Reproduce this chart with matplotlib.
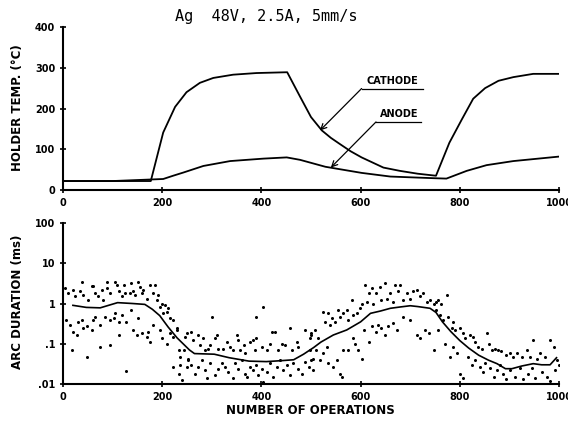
import matplotlib
matplotlib.use('Agg')
import matplotlib.pyplot as plt

# ---- top panel: holder temperature (deg C) vs number of operations ----
cathode_x = [0, 100, 177, 202, 226, 249, 276, 303, 343, 390, 452, 478, 500, 522, 540,
             558, 580, 602, 646, 679, 715, 752, 779, 804, 827, 851, 878, 908, 948, 1000]
cathode_t = [22, 22, 22, 141, 204, 240, 263, 275, 283, 287, 289, 229, 179, 146, 128,
             113, 95, 80, 55, 47, 40, 35, 116, 173, 224, 250, 268, 277, 285, 285]
anode_x = [0, 100, 202, 222, 243, 283, 337, 404, 451, 478, 529, 602, 660, 747,
           773, 814, 854, 908, 1000]
anode_t = [22, 22, 27, 35, 43, 59, 71, 77, 80, 74, 57, 42, 33, 29,
           28, 47, 61, 71, 82]

# ---- bottom panel: arc duration (ms), trend line ----
trend_x = [20, 47, 75, 110, 140, 165, 180, 195, 212, 230, 255, 265, 305, 335, 375,
           410, 440, 465, 485, 505, 520, 545, 572, 600, 620, 640, 660, 680, 700,
           715, 740, 752, 765, 782, 800, 818, 838, 858, 875, 892, 905, 925, 948,
           965, 982, 995]
trend_y = [0.9, 0.8, 0.78, 1.05, 1.0, 0.95, 0.72, 0.5, 0.26, 0.14, 0.07, 0.057,
           0.055, 0.045, 0.037, 0.036, 0.038, 0.04, 0.055, 0.08, 0.11, 0.165, 0.22,
           0.35, 0.57, 0.65, 0.76, 0.82, 0.88, 0.84, 0.76, 0.6, 0.35, 0.2, 0.12,
           0.078, 0.052, 0.039, 0.032, 0.024, 0.024, 0.028, 0.032, 0.03, 0.03, 0.045]

# individual arcs in four chunks
arc_x1 = [4, 11, 21, 24, 34, 38, 41, 51, 58, 61, 65, 71, 78, 81, 88, 88, 95, 105, 108,
          112, 118, 122, 125, 135, 138, 142, 145, 152, 155, 159, 162, 169, 175, 182,
          186, 189, 192, 196, 199, 206, 209, 212, 202, 216, 222, 229,
          7, 14, 21, 28, 31, 38, 41, 48, 58, 61, 65, 75, 85, 95, 102, 105, 112, 118,
          128, 138, 142, 152, 159, 169, 172, 175, 182, 196, 199, 209, 216, 222, 229,
          233, 236, 243, 246, 249, 253, 236, 222, 239, 233, 18, 48, 75, 95, 128, 112, 149]
arc_y1 = [2.4, 1.8, 2.2, 1.5, 2.0, 3.5, 1.6, 1.2, 2.7, 2.7, 1.8, 1.5, 2.2, 1.2, 3.5, 2.4,
          1.8, 3.5, 2.9, 2.0, 1.5, 2.9, 1.8, 1.8, 3.2, 2.0, 1.6, 3.5, 2.6, 1.8, 2.2, 1.3,
          2.9, 1.8, 2.9, 1.2, 1.6, 0.83, 1.0, 0.92, 0.63, 0.76, 0.57, 0.43, 0.39, 0.24,
          0.39, 0.29, 0.20, 0.165, 0.35, 0.39, 0.24, 0.27, 0.22, 0.39, 0.47, 0.29, 0.47,
          0.39, 0.43, 0.57, 0.35, 0.52, 0.35, 0.69, 0.22, 0.43, 0.18, 0.15, 0.20, 0.11,
          0.29, 0.22, 0.136, 0.10, 0.18, 0.15, 0.22, 0.07, 0.048, 0.07, 0.15, 0.027,
          0.043, 0.03, 0.027, 0.0126, 0.018, 0.07, 0.048, 0.085, 0.093, 0.021, 0.165, 0.165]
arc_x2 = [249, 259, 263, 273, 276, 283, 286, 293, 296, 306, 310, 313, 323, 330, 337, 343,
          350, 353, 357, 364, 367, 377, 384, 387, 390, 401, 411, 417, 421, 427, 434, 441,
          448, 458, 461, 471, 474, 488, 498, 501, 300, 390, 404,
          253, 259, 266, 273, 280, 286, 290, 296, 306, 313, 320, 327, 333, 343, 347, 353,
          360, 367, 370, 377, 384, 390, 394, 401, 404, 411, 417, 424, 431, 438, 444, 451,
          458, 464, 474, 481, 488, 495, 501, 505]
arc_y2 = [0.18, 0.20, 0.124, 0.165, 0.093, 0.136, 0.07, 0.075, 0.093, 0.136, 0.165, 0.075,
          0.075, 0.11, 0.085, 0.07, 0.165, 0.124, 0.07, 0.093, 0.058, 0.11, 0.124, 0.07,
          0.136, 0.085, 0.07, 0.10, 0.20, 0.20, 0.07, 0.10, 0.093, 0.24, 0.07, 0.11, 0.085,
          0.22, 0.136, 0.165, 0.47, 0.47, 0.83,
          0.039, 0.03, 0.018, 0.027, 0.039, 0.022, 0.014, 0.033, 0.017, 0.024, 0.033, 0.027,
          0.02, 0.014, 0.033, 0.024, 0.039, 0.018, 0.015, 0.027, 0.022, 0.03, 0.017, 0.024,
          0.011, 0.02, 0.033, 0.015, 0.027, 0.039, 0.022, 0.03, 0.017, 0.033, 0.024, 0.018,
          0.036, 0.027, 0.039, 0.022]
arc_x3 = [501, 508, 515, 525, 528, 535, 538, 542, 548, 555, 558, 565, 572, 575, 582, 585,
          592, 599, 602, 609, 612, 616, 622, 626, 632, 639, 642, 649, 653, 659, 666, 669,
          676, 679, 686, 693, 700, 706, 713, 720, 726, 733, 740, 747, 753,
          498, 505, 511, 518, 525, 532, 535, 545, 552, 558, 562, 565, 575, 585, 589, 595,
          602, 606, 616, 622, 632, 636, 642, 649, 656, 666, 673, 686, 700, 713, 720, 730,
          737, 747, 757]
arc_y3 = [0.18, 0.22, 0.136, 0.63, 0.35, 0.57, 0.29, 0.43, 0.35, 0.69, 0.47, 0.57, 0.69,
          0.39, 1.2, 0.52, 0.57, 0.76, 1.0, 2.9, 1.1, 1.8, 2.4, 1.0, 1.8, 2.6, 1.2, 3.2,
          1.3, 1.8, 1.1, 2.9, 2.0, 2.9, 1.2, 1.8, 1.3, 2.0, 2.2, 1.5, 1.8, 1.1, 1.2, 1.0, 1.1,
          0.07, 0.043, 0.07, 0.039, 0.058, 0.085, 0.033, 0.027, 0.039, 0.018, 0.015, 0.07,
          0.07, 0.136, 0.10, 0.07, 0.043, 0.22, 0.11, 0.27, 0.20, 0.29, 0.24, 0.165, 0.27,
          0.32, 0.22, 0.47, 0.39, 0.165, 0.136, 0.22, 0.18, 0.07, 0.22]
arc_x4 = [757, 763, 774, 753, 760, 767, 777, 787, 784, 790, 800, 807, 810, 821, 827, 831,
          837, 844, 854, 858, 864, 871, 878, 884, 894, 901, 908, 915, 925, 935, 941, 948,
          955, 962, 972, 982, 989, 995,
          770, 780, 787, 794, 800, 807, 817, 824, 831, 841, 847, 851, 861, 868, 874, 881,
          888, 894, 901, 911, 921, 928, 938, 945, 952, 965, 975, 982, 992, 999]
arc_y4 = [1.2, 1.0, 1.6, 0.69, 0.52, 0.39, 0.47, 0.35, 0.24, 0.22, 0.24, 0.18, 0.136, 0.165,
          0.15, 0.11, 0.085, 0.075, 0.18, 0.10, 0.07, 0.075, 0.07, 0.065, 0.052, 0.058,
          0.048, 0.058, 0.048, 0.07, 0.048, 0.124, 0.043, 0.058, 0.048, 0.124, 0.085, 0.039,
          0.10, 0.048, 0.085, 0.058, 0.018, 0.014, 0.048, 0.03, 0.039, 0.027, 0.02, 0.033,
          0.025, 0.015, 0.022, 0.03, 0.018, 0.013, 0.022, 0.015, 0.025, 0.013, 0.018, 0.025,
          0.014, 0.02, 0.015, 0.012, 0.022, 0.03]

x_ticks = [0, 200, 400, 600, 800, 1000]
temp_ticks = [0, 100, 200, 300, 400]
arc_ticks = [0.01, 0.1, 1, 10, 100]
arc_tick_labels = ['.01', '.1', '1', '10', '100']

W, H = 568, 424
fig = plt.figure(figsize=(W / 100, H / 100), dpi=100)
ax1 = fig.add_axes([63 / W, 1 - 190 / H, 496 / W, 163 / H])
ax2 = fig.add_axes([63 / W, 1 - 384 / H, 496 / W, 161 / H])


def style(ax):
    ax.spines['top'].set_visible(False)
    ax.spines['right'].set_visible(False)
    ax.spines['left'].set_linewidth(1.5)
    ax.spines['bottom'].set_linewidth(1.5)
    ax.tick_params(direction='inout', length=5, width=1.2, labelsize=7, pad=3)
    ax.minorticks_off()


# top panel
ax1.plot(cathode_x, cathode_t, color='black', lw=1.3)
ax1.plot(anode_x, anode_t, color='black', lw=1.3)
ax1.set_xlim(0, 1000)
ax1.set_ylim(0, 400)
style(ax1)
ax1.set_xticks(x_ticks)
ax1.set_xticklabels([str(v) for v in x_ticks], fontweight='bold')
ax1.set_yticks(temp_ticks)
ax1.set_yticklabels([str(v) for v in temp_ticks], fontweight='bold')

# labels with leader lines
arrow = dict(arrowstyle='->', color='black', lw=0.9, shrinkA=0, shrinkB=0)
ax1.annotate('', xy=(518, 146), xytext=(602, 249), arrowprops=arrow)
ax1.plot([602, 726], [249, 249], color='black', lw=0.9)
ax1.text(664, 256, 'CATHODE', ha='center', va='bottom', fontsize=7, fontweight='bold')
ax1.annotate('', xy=(540, 55), xytext=(631, 167), arrowprops=arrow)
ax1.plot([631, 722], [167, 167], color='black', lw=0.9)
ax1.text(678, 174, 'ANODE', ha='center', va='bottom', fontsize=7, fontweight='bold')

# bottom panel
for xs, ys in [(arc_x1, arc_y1), (arc_x2, arc_y2), (arc_x3, arc_y3), (arc_x4, arc_y4)]:
    ax2.plot(xs, ys, ls='none', marker='o', ms=2.2, mew=0, color='black')
ax2.plot(trend_x, trend_y, color='black', lw=1.2)
ax2.set_yscale('log')
ax2.set_xlim(0, 1000)
ax2.set_ylim(0.01, 100)
style(ax2)
ax2.set_xticks(x_ticks)
ax2.set_xticklabels([str(v) for v in x_ticks], fontweight='bold')
ax2.set_yticks(arc_ticks)
ax2.set_yticklabels(arc_tick_labels, fontweight='bold')
ax2.minorticks_off()

# titles and axis labels
fig.text(266 / W, 1 - 16 / H, 'Ag  48V, 2.5A, 5mm/s', ha='center', va='center',
         fontsize=11, family='DejaVu Sans Mono')
fig.text(18 / W, 1 - 108 / H, 'HOLDER TEMP. (°C)', rotation=90, ha='center',
         va='center', fontsize=8.5, fontweight='bold')
fig.text(18 / W, 1 - 302 / H, 'ARC DURATION (ms)', rotation=90, ha='center',
         va='center', fontsize=8.5, fontweight='bold')
fig.text(310 / W, 1 - 410 / H, 'NUMBER OF OPERATIONS', ha='center', va='center',
         fontsize=8.5, fontweight='bold')

fig.savefig('out.png', dpi=100)
